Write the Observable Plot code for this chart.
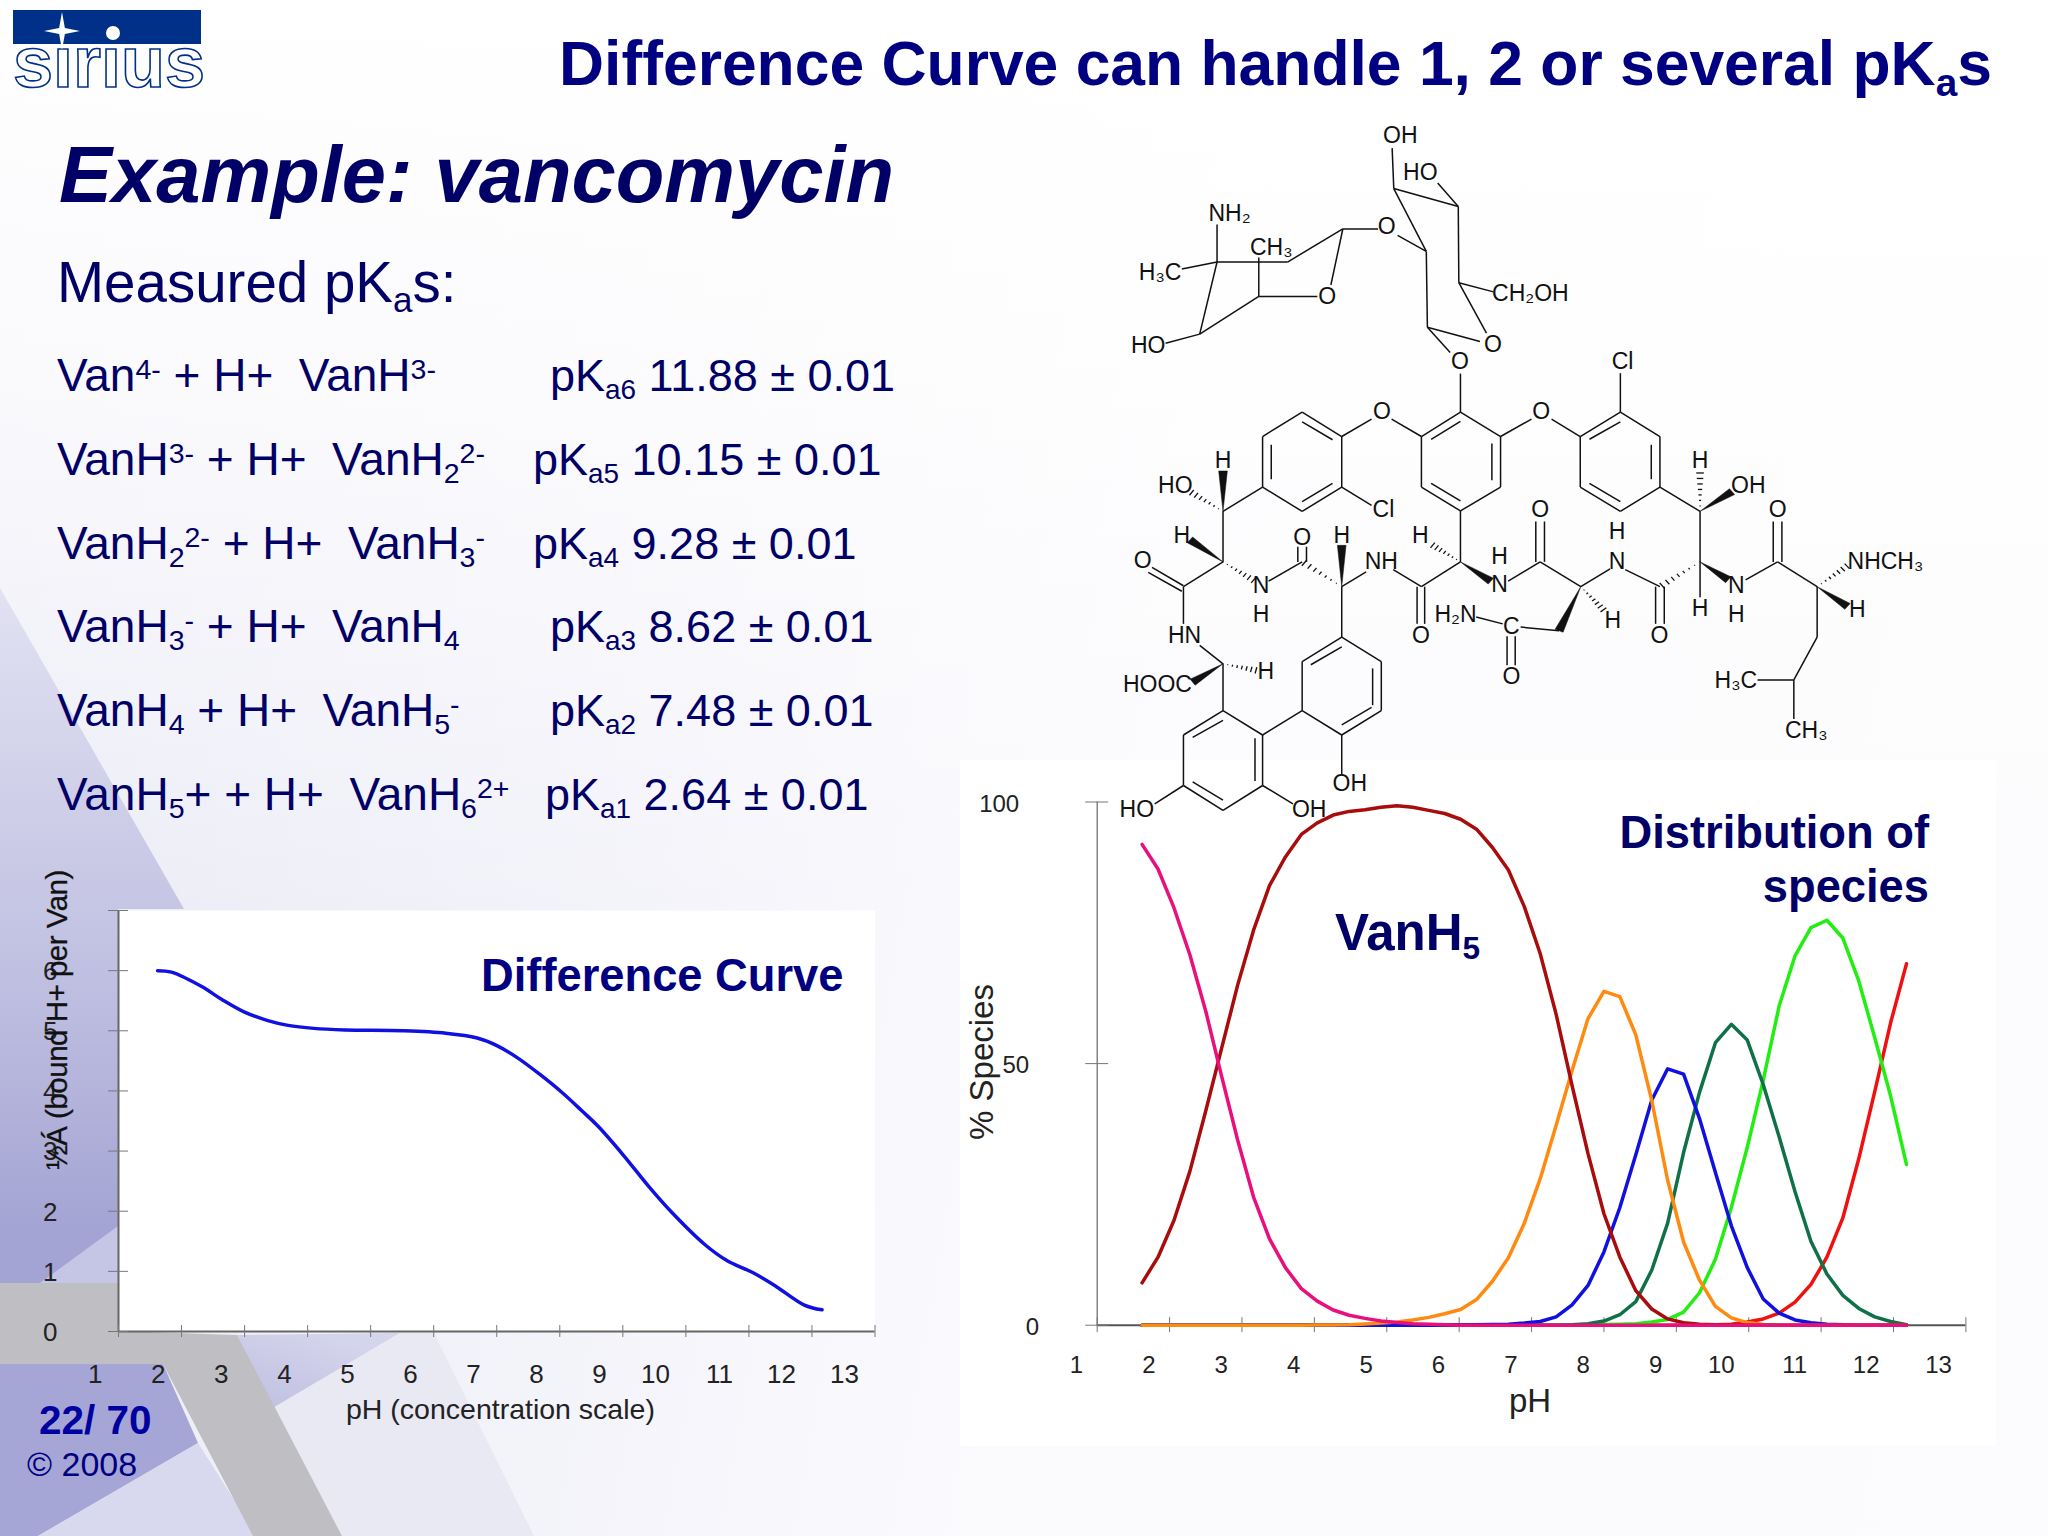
<!DOCTYPE html>
<html>
<head>
<meta charset="utf-8">
<script src="https://cdn.jsdelivr.net/npm/d3@7"></script>
<script src="https://cdn.jsdelivr.net/npm/@observablehq/plot@0.6"></script>
<style>
html,body{margin:0;padding:0;background:#fff;}
#slide{position:relative;width:2048px;height:1536px;overflow:hidden;font-family:"Liberation Sans",Arial,sans-serif;color:#000066;
 background:linear-gradient(180deg,#ffffff 0%,rgba(255,255,255,.75) 25%,rgba(255,255,255,0) 60%),linear-gradient(100deg,#e9e9f5 0%,#f1f1f9 28%,#fbfbfe 55%,#fcfcfe 100%);}
.shape{position:absolute;left:0;top:0;width:2048px;height:1536px;}
.t{position:absolute;white-space:pre;line-height:1;}
.t .s{font-size:.62em;vertical-align:-.28em;line-height:0;}
.t .u{font-size:.62em;vertical-align:.42em;line-height:0;}
.plot{position:absolute;}
.plot svg{overflow:visible;display:block;}
</style>
</head>
<body>
<div id="slide"></div>
<script>
// ---------- text of the slide ----------
const slideTitle = 'Difference Curve can handle 1, 2 or several pK<span class="s">a</span>s';
const exampleTitle = 'Example: vancomycin';
const measuredTitle = 'Measured pK<span class="s">a</span>s:';
const equilibria = [
 'Van<span class="u">4-</span> + H+  VanH<span class="u">3-</span>',
 'VanH<span class="u">3-</span> + H+  VanH<span class="s">2</span><span class="u">2-</span>',
 'VanH<span class="s">2</span><span class="u">2-</span> + H+  VanH<span class="s">3</span><span class="u">-</span>',
 'VanH<span class="s">3</span><span class="u">-</span> + H+  VanH<span class="s">4</span>',
 'VanH<span class="s">4</span> + H+  VanH<span class="s">5</span><span class="u">-</span>',
 'VanH<span class="s">5</span>+ + H+  VanH<span class="s">6</span><span class="u">2+</span>'
];
const pKaNames = ['a6','a5','a4','a3','a2','a1'];
const pKaValues = ['11.88','10.15','9.28','8.62','7.48','2.64'];
const pKaError = '0.01';

// ---------- difference curve ----------
const diffPH = [1.62,1.84,2.32,2.64,3.0,3.37,3.69,4.1,4.6,5.51,6.19,6.69,7.01,7.33,7.69,8.04,8.35,8.6,9.01,9.42,9.79,10.29,10.65,11.06,11.43,11.88,12.16];
const diffH  = [6.0,5.975,5.735,5.52,5.31,5.17,5.09,5.04,5.015,5.0,4.96,4.88,4.75,4.55,4.27,3.97,3.67,3.42,2.93,2.40,1.965,1.455,1.18,0.98,0.75,0.44,0.36];
const phTicks = [1,2,3,4,5,6,7,8,9,10,11,12,13];
const diffYTicks = [0,1,2,3,4,5,6,7];
const diffYLabels = [0,1,2,3,4,5,6];

// ---------- distribution of species ----------
const speciesPH = [1.62,1.84,2.06,2.28,2.5,2.72,2.94,3.16,3.38,3.6,3.82,4.04,4.26,4.48,4.7,4.92,5.14,5.36,5.58,5.8,6.02,6.24,6.46,6.68,6.9,7.12,7.34,7.56,7.78,8.0,8.22,8.44,8.66,8.88,9.1,9.32,9.54,9.76,9.98,10.2,10.42,10.64,10.86,11.08,11.3,11.52,11.74,11.96,12.18];
const vanH6 = [91.9,87.2,79.8,70.8,60,47.5,35.4,24.5,16.5,11,7,4.6,2.9,1.9,1.3,.8,.5,.3,.2,.1,0,0,0,0,0,0,0,0,0,0,0,0,0,0,0,0,0,0,0,0,0,0,0,0,0,0,0,0,0];
const vanH5 = [8.1,13,20,29.4,41,53,65,75.5,84,89.5,93.8,96,97.5,98.2,98.5,99,99.3,99,98.4,97.8,96.7,94.8,91.3,87,80,71,59.4,45.8,32.8,21.3,13,6.6,3.1,1.2,.47,.2,.1,.05,0,0,0,0,0,0,0,0,0,0,0];
const vanH4 = [0,0,0,0,0,0,0,0,0,0,0,.02,.05,.1,.25,.4,.6,1,1.5,2.2,3,4.9,8.4,12.9,19.5,28,38.2,48.7,58.6,63.8,62.8,55.5,43,27.7,15.9,8.6,3.6,1.4,.5,.15,0,0,0,0,0,0,0,0,0];
const vanH3 = [0,0,0,0,0,0,0,0,0,0,0,0,0,0,0,0,0,0,0,.03,.05,.1,.15,.2,.4,.7,1.6,3.9,7.6,14,22.5,32.6,43,49,48,39.5,29.2,19,11,5,2.3,1,.45,.2,.1,0,0,0,0];
const vanH2 = [0,0,0,0,0,0,0,0,0,0,0,0,0,0,0,0,0,0,0,0,0,0,0,0,0,0,0,.1,.3,.8,2,4.5,10.5,19.5,33,44.5,54,57.5,54.5,46,36,25.5,16,9.8,5.7,3.2,1.6,.7,.1];
const vanH1 = [0,0,0,0,0,0,0,0,0,0,0,0,0,0,0,0,0,0,0,0,0,0,0,0,0,0,0,0,.1,.15,.2,.3,.6,1.1,2.5,6.2,12.6,22.5,34,46.8,61,70.6,76,77.4,74,65.8,55,43.8,30.7];
const van0  = [0,0,0,0,0,0,0,0,0,0,0,0,0,0,0,0,0,0,0,0,0,0,0,0,0,0,0,0,0,0,0,0,0,0,0,0,.1,.2,.6,1.2,2.3,4.4,7.8,13,20.5,31.8,44.6,57.8,69.1];
const speciesY = [0,50,100];

// ---------- vancomycin structure, in drawing units ----------
const atomLabels = [
 ["OH",553,55],["HO",590,135],["NH₂",238,225],["CH₃",315,298],["O",528,253],["H₃C",110,353],["O",418,405],["CH₂OH",793,398],
 ["HO",88,511],["O",724,510],["O",663,547],["Cl",963,546],["O",519,656],["O",813,656],["H",226,763],["H",1106,762],
 ["HO",138,817],["OH",1195,817],["Cl",522,870],["O",811,870],["O",1249,870],["H",150,925],["O",372,930],["H",445,925],["H",590,925],
 ["H",953,918],["O",78,980],["NH",518,982],["H",736,972],["NHCH₃",1448,982],["N",296,1035],["N",736,1033],["N",953,983],["N",1173,1035],
 ["H",296,1097],["H₂N",655,1098],["H",1106,1085],["H",1173,1097],["H",1396,1088],["H",945,1110],["O",591,1143],["O",1031,1143],
 ["HN",155,1143],["C",758,1125],["O",758,1232],["H",305,1222],["HOOC",105,1250],["H₃C",1172,1242],["CH₃",1302,1350],["OH",460,1467],
 ["HO",67,1522],["OH",385,1522]
];
const singleBonds = [
 [538,82,541,170],[541,170,660,209],[622,158,660,209],[660,209,661,375],[541,170,601,307],[548,272,601,307],[447,258,512,258],
 [601,307,603,472],[603,472,700,503],[661,375,712,485],[661,375,725,395],[603,472,645,527],[664,573,664,657],
 [215,248,215,330],[150,345,215,330],[215,330,345,330],[292,320,292,405],[345,330,447,258],[447,258,425,380],[292,405,400,405],
 [292,405,183,487],[215,330,183,487],[183,487,120,507],
 [664,657,738,710],[738,710,738,820],[738,820,664,872],[664,872,592,820],[592,820,592,710],[592,710,664,657],
 [610,716,664,677],[722,725,722,805],[610,812,664,850],
 [592,710,537,672],[500,672,445,710],[738,710,795,672],[832,672,885,710],
 [372,657,445,710],[445,710,445,820],[445,820,372,873],[372,873,299,820],[299,820,299,710],[299,710,372,657],
 [372,678,428,717],[315,728,315,803],[372,852,428,812],[445,820,500,860],
 [959,657,1032,710],[1032,710,1032,820],[1032,820,959,873],[959,873,885,820],[885,820,885,710],[885,710,959,657],
 [902,716,959,678],[1016,728,1016,803],[902,812,959,852],[959,572,959,657],
 [299,820,226,873],[226,873,226,983],[153,1035,95,995],[150,1047,88,1006],[226,983,153,1037],[153,1037,153,1118],
 [310,1025,372,983],[364,983,364,950],[380,983,380,950],[445,1037,490,1005],[445,1037,445,1147],
 [445,1147,518,1200],[518,1200,518,1307],[518,1307,445,1360],[445,1360,372,1307],[372,1307,372,1200],[372,1200,445,1147],
 [388,1207,445,1168],[502,1215,502,1295],[445,1338,500,1300],[445,1360,445,1445],[372,1307,299,1360],
 [226,1307,299,1360],[299,1360,299,1470],[299,1470,226,1524],[226,1524,153,1470],[153,1470,153,1360],[153,1360,226,1307],
 [170,1365,226,1328],[285,1367,285,1460],[170,1462,226,1502],[153,1470,100,1510],[299,1470,355,1510],[226,1307,226,1205],[183,1165,226,1205],
 [540,1000,592,1037],[584,1037,584,1118],[598,1037,598,1118],[592,1037,664,983],[664,983,664,872],
 [752,1025,811,983],[803,983,803,895],[819,983,819,895],[811,983,886,1037],[886,1037,940,998],
 [846,1133,775,1125],[693,1103,742,1118],[750,1145,750,1208],[765,1145,765,1208],
 [968,1000,1032,1037],[1024,1037,1024,1118],[1040,1037,1040,1118],[1106,983,1106,873],[1032,820,1106,873],[1106,983,1106,1060],
 [1190,1022,1249,983],[1241,983,1241,895],[1257,983,1257,895],[1249,983,1322,1037],
 [1322,1037,1322,1147],[1322,1147,1279,1240],[1279,1240,1212,1240],[1279,1240,1279,1325]
];
const wedgeBonds = [
 [226,873,226,785],[226,983,165,935],[445,1037,445,947],[226,1205,170,1245],[664,983,720,1025],[886,1037,846,1133],
 [1106,873,1165,830],[1106,983,1158,1022],[1322,1037,1378,1080]
];
const hashBonds = [
 [226,873,165,830],[226,983,285,1025],[445,1037,372,983],[226,1205,290,1220],[664,983,610,945],[886,1037,930,1090],
 [1106,873,1106,785],[1106,983,1032,1037],[1322,1037,1380,990]
];

// ---------- page helpers ----------
const slide = document.getElementById("slide");
function shape(points, background){
  const d = document.createElement("div");
  d.className = "shape";
  d.style.background = background;
  d.style.clipPath = "polygon(" + points.map(p => p[0]+"px "+p[1]+"px").join(",") + ")";
  slide.appendChild(d);
}
function text(html, x, base, size, css={}){
  const d = document.createElement("div");
  d.className = "t";
  d.innerHTML = html;
  d.style.left = x+"px";
  d.style.top = (base-0.8465*size)+"px";
  d.style.fontSize = size+"px";
  Object.assign(d.style, css);
  slide.appendChild(d);
  return d;
}
function rotated(html, cx, cy, size, css={}){
  const d = text(html, cx, cy, size, css);
  d.style.top = cy+"px";
  d.style.transform = "translate(-50%,-50%) rotate(-90deg)";
  return d;
}
function place(plot, x, y){
  const w = document.createElement("div");
  w.className = "plot";
  w.style.left = x+"px"; w.style.top = y+"px";
  w.appendChild(plot);
  slide.appendChild(w);
}
function box(x,y,w,h,bg){
  const d = document.createElement("div");
  d.style.cssText = `position:absolute;left:${x}px;top:${y}px;width:${w}px;height:${h}px;background:${bg};`;
  slide.appendChild(d);
  return d;
}

// ---------- background ----------
shape([[0,588],[184,909],[118,909],[118,1283],[0,1283]],
      "linear-gradient(180deg,#e2e2f3 38%,#cfcfe9 52%,#bcbce0 66%,#a4a4d4 80%)");
shape([[118,1226],[118,1283],[40,1283]], "#c5c5e5");
shape([[237,1335],[400,1333],[273,1408]], "linear-gradient(200deg,#d4d4ec 86%,#b8b8de 92%)");
shape([[0,1364],[163,1364],[198,1443],[38,1536],[0,1536]], "linear-gradient(150deg,#a6a6d6 85%,#8484c4 95%)");
shape([[38,1536],[198,1443],[257,1536]], "#d8d8ee");
shape([[273,1408],[400,1333],[434,1333],[534,1536],[342,1536]], "#e9e9f4");
shape([[0,1283],[118,1283],[118,1331],[237,1335],[342,1536],[253,1536],[163,1364],[0,1364]], "#bfbfc3");

// ---------- logo ----------
box(13,10,188,34,"#003087");
text("sirius", 13, 87, 72, {fontWeight:"bold",color:"#fff",WebkitTextStroke:"1.6px #003087",clipPath:"inset(21px -5px -5px -5px)"});
const star = box(44,12,36,38,"#fff");
star.style.clipPath = "polygon(50% 0,58% 42%,100% 50%,58% 58%,50% 100%,42% 58%,0 50%,42% 42%)";
const dot = box(106,26,14,14,"#fff"); dot.style.borderRadius = "50%";

// ---------- text blocks ----------
text(slideTitle, 559, 86, 62.4, {fontWeight:"bold",color:"#000080"});
text(exampleTitle, 59, 202, 79.5, {fontWeight:"bold",fontStyle:"italic",color:"#000066"});
text(measuredTitle, 57, 303, 56.5);
const rowBase = [390.6,475,558.6,641.6,725.6,809.6];
const col2 = [550,533,533,550,550,545];
equilibria.forEach((e,i)=>{
  text(e, 57, rowBase[i], 46);
  text(`pK<span class="s">${pKaNames[i]}</span> ${pKaValues[i]} ± ${pKaError}`, col2[i], rowBase[i], 45);
});
text("22/ 70", 39, 1434, 40.5, {fontWeight:"bold",color:"#0000a0"});
text("© 2008", 27, 1476, 34, {color:"#000080"});

// ---------- white panel behind the species chart ----------
box(960,760,1036,686,"#fff");

const axisGrey = "#777";
const font = {fontFamily:"'Liberation Sans',Arial,sans-serif",background:"transparent",color:"#222"};

// ---------- difference curve chart ----------
place(Plot.plot({
  width:900, height:560, marginLeft:118, marginRight:25.5, marginTop:50, marginBottom:89,
  style:font,
  x:{domain:[1,13]}, y:{domain:[0,7]},
  marks:[
    Plot.frame({fill:"white",stroke:null}),
    Plot.ruleX([1],{stroke:"#666",strokeWidth:2}),
    Plot.ruleY([0],{stroke:"#666",strokeWidth:2}),
    Plot.axisX({ticks:phTicks,tickSize:12,dy:-6,tickFormat:()=>"",label:null,stroke:axisGrey}),
    Plot.axisY({ticks:diffYTicks,tickSize:20,dx:10,tickFormat:()=>"",label:null,stroke:axisGrey}),
    Plot.axisX({ticks:phTicks,tickSize:0,tickPadding:33,dx:-16,textAnchor:"end",fontSize:26,label:null,fill:"#222"}),
    Plot.axisY({ticks:diffYLabels,tickSize:0,tickPadding:61,dy:1,fontSize:26,tickFormat:d=>String(d),label:null,fill:"#222"}),
    Plot.line(diffPH.map((p,i)=>({p,v:diffH[i]})),{x:"p",y:"v",stroke:"#1010e0",strokeWidth:3.5,curve:"catmull-rom"})
  ]
}),0,860);
rotated("½Á (bound H+ per Van)", 57, 1020, 29.5, {color:"#111",letterSpacing:"-.5px",WebkitTextStroke:".3px #111"});
text("pH (concentration scale)", 346, 1419, 28.5, {color:"#222"});
text("Difference Curve", 481, 991, 45.3, {fontWeight:"bold",color:"#000080"});

// ---------- species chart ----------
const speciesSeries = [
  {name:"Van",   values:van0,  color:"#f01010"},
  {name:"VanH",  values:vanH1, color:"#22ee11"},
  {name:"VanH2", values:vanH2, color:"#107048"},
  {name:"VanH3", values:vanH3, color:"#1010e0"},
  {name:"VanH4", values:vanH4, color:"#ff8a10"},
  {name:"VanH5", values:vanH5, color:"#a80c0c"},
  {name:"VanH6", values:vanH6, color:"#e8107c"}
];
place(Plot.plot({
  width:1036, height:686, marginLeft:136.7, marginRight:30.6, marginTop:41.5, marginBottom:121.3,
  style:font,
  x:{domain:[1,13]}, y:{domain:[0,100]},
  marks:[
    Plot.ruleX([1],{stroke:"#666",strokeWidth:1.2}),
    Plot.ruleY([0],{stroke:"#555",strokeWidth:2}),
    Plot.axisX({ticks:phTicks,tickSize:15,dy:-7.5,tickFormat:()=>"",label:null,stroke:axisGrey}),
    Plot.axisY({ticks:speciesY,tickSize:23,dx:11.5,tickFormat:()=>"",label:null,stroke:axisGrey}),
    Plot.axisX({ticks:phTicks,tickSize:0,tickPadding:30.5,dx:-14,textAnchor:"end",fontSize:24,label:null,fill:"#222"}),
    Plot.axisY({ticks:[100],tickSize:0,tickPadding:78,dy:2,fontSize:24,label:null,fill:"#222"}),
    Plot.axisY({ticks:[50],tickSize:0,tickPadding:68,dy:2,fontSize:24,label:null,fill:"#222"}),
    Plot.axisY({ticks:[0],tickSize:0,tickPadding:58,dy:2,fontSize:24,label:null,fill:"#222"}),
    ...speciesSeries.map(s=>Plot.line(speciesPH.map((p,i)=>({p,v:s.values[i]})),{x:"p",y:"v",stroke:s.color,strokeWidth:3.5}))
  ]
}),960,760);
rotated("% Species", 981, 1062, 33, {color:"#222"});
text("pH", 1509, 1412, 33, {color:"#222"});
text('VanH<span class="s">5</span>', 1335, 950, 51, {fontWeight:"bold",color:"#000066"});
text("Distribution of", 0, 848, 45.3, {fontWeight:"bold",color:"#000066",left:"auto",right:(2048-1929)+"px"});
text("species", 0, 902, 45.3, {fontWeight:"bold",color:"#000066",left:"auto",right:(2048-1929)+"px"});

// ---------- vancomycin structure ----------
const hashRungs = hashBonds.flatMap(([x1,y1,x2,y2])=>{
  const dx=x2-x1, dy=y2-y1, l=Math.hypot(dx,dy), nx=-dy/l, ny=dx/l, n=7;
  return d3.range(1,n+1).map(k=>{
    const t=k/n, cx=x1+dx*t*.95, cy=y1+dy*t*.95, h=7*t;
    return {x1:cx-nx*h,y1:cy-ny*h,x2:cx+nx*h,y2:cy+ny*h};
  });
});
const wedgePoints = wedgeBonds.flatMap(([x1,y1,x2,y2],i)=>{
  const dx=x2-x1, dy=y2-y1, l=Math.hypot(dx,dy), nx=-dy/l, ny=dx/l, h=8;
  return [{i,x:x1,y:y1},{i,x:x2+nx*h,y:y2+ny*h},{i,x:x2-nx*h,y:y2-ny*h},{i,x:x1,y:y1}];
});
const bondMark = (data,w)=>Plot.link(data,{x1:"x1",y1:"y1",x2:"x2",y2:"y2",stroke:"#111",strokeWidth:w});
place(Plot.plot({
  width:850, height:720, margin:0,
  style:font,
  x:{axis:null,domain:[0,1568]}, y:{axis:null,domain:[1568,0]},
  marks:[
    bondMark(singleBonds.map(([x1,y1,x2,y2])=>({x1,y1,x2,y2})),1.5),
    bondMark(hashRungs,1.3),
    Plot.line(wedgePoints,{x:"x",y:"y",z:"i",fill:"#111",stroke:"#111",strokeWidth:.5}),
    Plot.text(atomLabels,{x:d=>d[1],y:d=>d[2],text:d=>d[0],fontSize:23,fill:"#111"})
  ]
}),1100,110);
</script>
</body>
</html>
